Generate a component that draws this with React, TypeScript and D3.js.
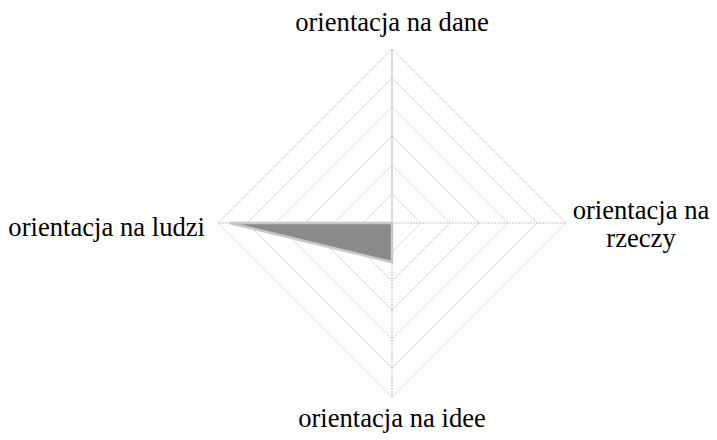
import React from "react";
import * as d3 from "d3";

const categories = ["orientacja na dane", "orientacja na rzeczy", "orientacja na idee", "orientacja na ludzi"];
const labelLines = [["orientacja na dane"], ["orientacja na", "rzeczy"], ["orientacja na idee"], ["orientacja na ludzi"]];
const seriesValues = [0, 0, 1.35, 5.6];
const gridLevels = [1, 2, 3, 4, 5, 6];
const maxValue = 6;

export default function App() {
  const W = 717, H = 440;
  const cx = 392, cy = 223, R = 174;
  const r = d3.scaleLinear().domain([0, maxValue]).range([0, R]);
  const angle = (i: number) => (i * 2 * Math.PI) / categories.length;
  const pt = (i: number, v: number): [number, number] => [
    cx + r(v) * Math.sin(angle(i)),
    cy - r(v) * Math.cos(angle(i)),
  ];
  const line = d3.line<[number, number]>().curve(d3.curveLinearClosed);

  const gridColor = "#dadada";
  const fam = "Liberation Serif";

  const labelPos = [
    { x: cx, y: cy - R - 18, anchor: "middle" },
    { x: cx + R + 75, y: cy - 4, anchor: "middle" },
    { x: cx, y: cy + R + 30, anchor: "middle" },
    { x: cx - R - 13, y: cy + 13, anchor: "end" },
  ];

  return (
    <svg width={W} height={H} style={{ position: "absolute", left: 0, top: 0, background: "#fff" }}>
      {gridLevels.map((lv) => (
        <path
          key={lv}
          d={line(categories.map((_, i) => pt(i, lv))) || ""}
          fill="none"
          stroke={gridColor}
          strokeWidth={1}
        />
      ))}
      {categories.map((_, i) => {
        const [x, y] = pt(i, maxValue);
        return (
          <line
            key={i}
            x1={cx}
            y1={cy}
            x2={x}
            y2={y}
            stroke="#c4c4c4"
            strokeWidth={1.2}
            strokeDasharray={i === 0 ? undefined : "2,1"}
          />
        );
      })}
      <path
        d={line(seriesValues.map((v, i) => pt(i, v))) || ""}
        fill="#8a8a8a"
        stroke="#c8c8c8"
        strokeWidth={2.5}
        strokeLinejoin="miter"
      />
      {labelLines.map((lines, i) =>
        lines.map((t, j) => (
          <text
            key={`${i}-${j}`}
            transform={`translate(${labelPos[i].x},${labelPos[i].y + j * 28}) scale(1.11)`}
            x={0}
            y={0}
            textAnchor={labelPos[i].anchor as any}
            fontSize={24}
            style={{ fontFamily: `"${fam}"` }}
          >
            {t}
          </text>
        ))
      )}
    </svg>
  );
}
